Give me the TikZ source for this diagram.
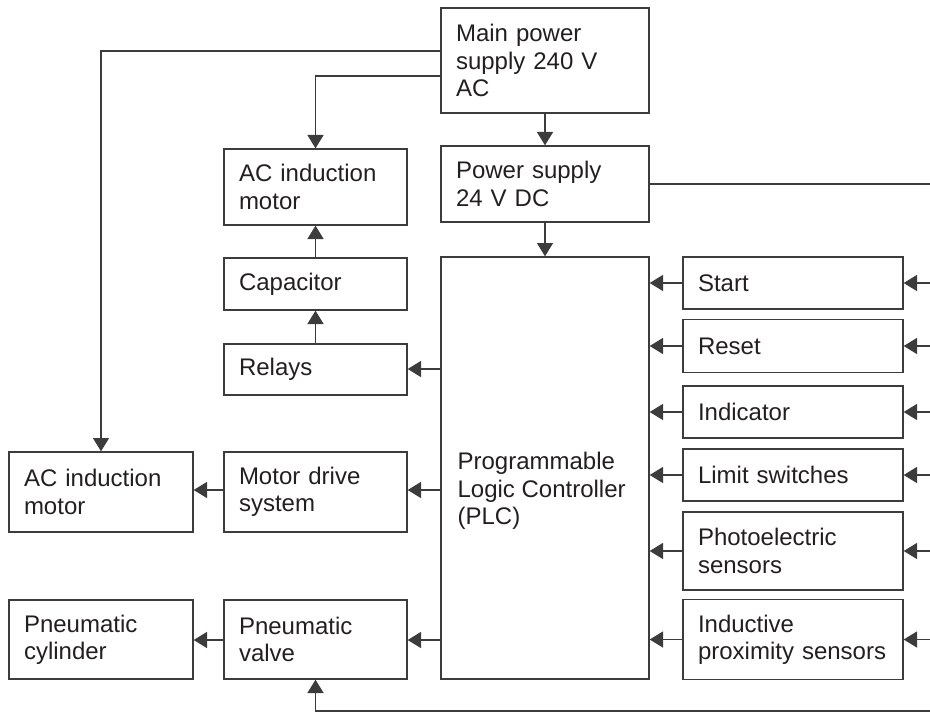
\documentclass[tikz,border=0pt]{standalone}
\usepackage{fontspec}
\setmainfont{Liberation Sans}
\usetikzlibrary{arrows.meta}
\definecolor{ink}{HTML}{231F20}
\definecolor{wirecol}{HTML}{3C3C3C}

\begin{document}
\begin{tikzpicture}[x=0.75pt,y=-0.75pt,
		blk/.style={draw=wirecol, line width=1pt, text=ink, align=left, inner xsep=11.25pt, inner ysep=0pt,
			text width=#1, font=\fontsize{18}{20.5}\selectfont},
		wire/.style={draw=wirecol, line width=1pt},
		arr/.style={wire, -{Triangle[length=10pt,width=12pt]}}]
			\useasboundingbox (0,0) rectangle (930,713);

			% power supplies and PLC
			\node[blk=133.5pt, minimum height=78.75pt] (mains) at (545,60.5) {Main power\\supply 240 V\\AC};
			\node[blk=133.5pt, minimum height=57pt] (psu) at (545,184) {Power supply\\24 V DC};
			\node[blk=133.5pt, minimum height=316.5pt] (plc) at (545,468) {};
			\node[anchor=west, align=left, text=ink, inner xsep=12.75pt, font=\fontsize{18}{20.5}\selectfont] (plctext) at (plc.west |- 0,491) {Programmable\\Logic Controller\\(PLC)};

			% outputs
			\node[blk=114.75pt, minimum height=57pt] (motora) at (315.5,187) {AC induction\\motor};
			\node[blk=114.75pt, minimum height=39pt] (cap) at (315.5,284) {Capacitor};
			\node[blk=114.75pt, minimum height=38.25pt] (relays) at (315.5,369.5) {Relays};
			\node[blk=114.75pt, minimum height=60pt] (drive) at (315.5,492) {Motor drive\\system};
			\node[blk=114.75pt, minimum height=59.25pt] (valve) at (315.5,639.5) {Pneumatic\\valve};
			\node[blk=115.5pt, minimum height=60pt] (motorb) at (101,492) {AC induction\\motor};
			\node[blk=115.5pt, minimum height=59.25pt] (cylinder) at (101,639.5) {Pneumatic\\cylinder};

			% inputs
			\node[blk=142.5pt, minimum height=39pt] (start) at (793,283) {Start};
			\node[blk=142.5pt, minimum height=39.75pt] (reset) at (793,346) {Reset};
			\node[blk=142.5pt, minimum height=39pt] (indicator) at (793,412) {Indicator};
			\node[blk=142.5pt, minimum height=39pt] (limit) at (793,475) {Limit switches};
			\node[blk=142.5pt, minimum height=58.5pt] (photo) at (793,551) {Photoelectric\\sensors};
			\node[blk=142.5pt, minimum height=60pt] (inductive) at (793,639.5) {Inductive\\proximity sensors};

			\coordinate (rbus) at (930,0);
			\coordinate (bbus) at (930,711);

			% connections
			\draw[arr] (mains.west |- 0,51) -| (motorb.north);
			\draw[arr] (mains.west |- 0,76) -| (motora.north);
			\draw[arr] (mains) -- (psu);
			\draw[arr] (psu) -- (plc);
			\draw[wire] (psu.east) -- (rbus |- psu.east);
			\draw[arr] (cap) -- (motora);
			\draw[arr] (relays) -- (cap);
			\draw[arr] (plc.west |- 0,369) -- (relays.east |- 0,369);
			\draw[arr] (plc.west |- 0,490) -- (drive.east |- 0,490);
			\draw[arr] (drive.west |- 0,490) -- (motorb.east |- 0,490);
			\draw[arr] (plc.west |- 0,640) -- (valve.east |- 0,640);
			\draw[arr] (valve.west |- 0,640) -- (cylinder.east |- 0,640);
			\draw[arr] (bbus) -| (valve.south);

			\draw[arr] (start.west) -- (plc.east |- start.west);
			\draw[arr] (reset.west) -- (plc.east |- reset.west);
			\draw[arr] (indicator.west) -- (plc.east |- indicator.west);
			\draw[arr] (limit.west) -- (plc.east |- limit.west);
			\draw[arr] (photo.west) -- (plc.east |- photo.west);
			\draw[arr] (inductive.west) -- (plc.east |- inductive.west);

			\draw[arr] (rbus |- start.east) -- (start.east);
			\draw[arr] (rbus |- reset.east) -- (reset.east);
			\draw[arr] (rbus |- indicator.east) -- (indicator.east);
			\draw[arr] (rbus |- limit.east) -- (limit.east);
			\draw[arr] (rbus |- photo.east) -- (photo.east);
			\draw[arr] (rbus |- inductive.east) -- (inductive.east);
		\end{tikzpicture}
\end{document}
